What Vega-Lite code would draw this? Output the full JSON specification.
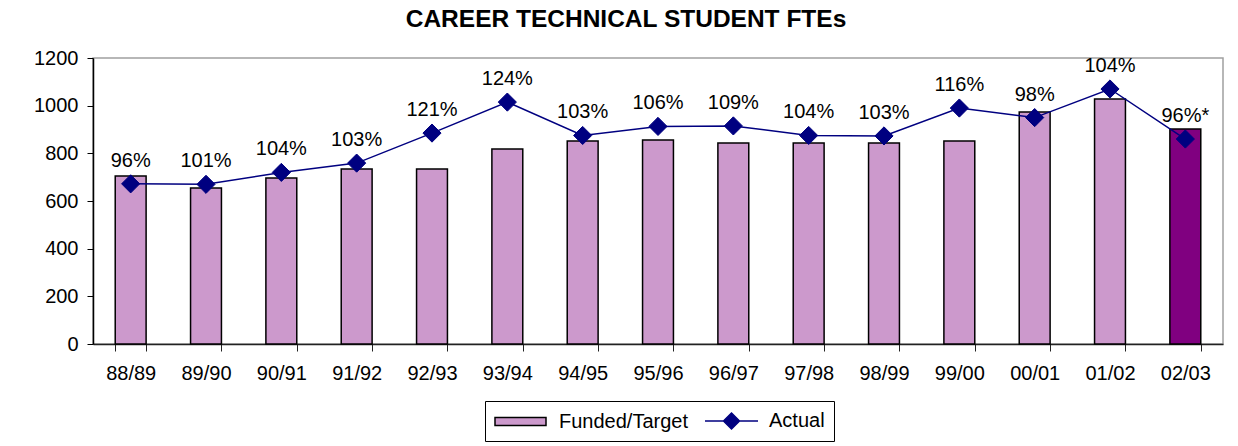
{
  "$schema": "https://vega.github.io/schema/vega-lite/v6.json",
  "width": 1130,
  "height": 286,
  "autosize": {"type": "none"},
  "padding": {"left": 93, "top": 58, "right": 15, "bottom": 102},
  "background": "white",
  "title": {
    "text": "CAREER TECHNICAL STUDENT FTEs",
    "font": "Liberation Sans",
    "fontSize": 24.5,
    "fontWeight": "bold",
    "color": "black",
    "anchor": "middle",
    "dx": -32,
    "offset": 16
  },
  "config": {
    "font": "Liberation Sans",
    "view": {"stroke": "#a0a0a0", "strokeWidth": 1.5},
    "legend": {
      "strokeColor": "black",
      "fillColor": "white",
      "padding": 9,
      "labelFontSize": 20,
      "labelColor": "black",
      "labelOffset": 43,
      "columnPadding": 14,
      "symbolSize": 400,
      "symbolStrokeWidth": 1.5,
      "symbolOpacity": 1
    }
  },
  "data": {
    "values": [
      {"year": "88/89", "funded": 705, "actual": 672, "pct": "96%"},
      {"year": "89/90", "funded": 655, "actual": 670, "pct": "101%"},
      {"year": "90/91", "funded": 696, "actual": 720, "pct": "104%"},
      {"year": "91/92", "funded": 734, "actual": 759, "pct": "103%"},
      {"year": "92/93", "funded": 734, "actual": 885, "pct": "121%"},
      {"year": "93/94", "funded": 818, "actual": 1015, "pct": "124%"},
      {"year": "94/95", "funded": 852, "actual": 875, "pct": "103%"},
      {"year": "95/96", "funded": 856, "actual": 913, "pct": "106%"},
      {"year": "96/97", "funded": 843, "actual": 915, "pct": "109%"},
      {"year": "97/98", "funded": 843, "actual": 875, "pct": "104%"},
      {"year": "98/99", "funded": 843, "actual": 873, "pct": "103%"},
      {"year": "99/00", "funded": 852, "actual": 990, "pct": "116%"},
      {"year": "00/01", "funded": 973, "actual": 950, "pct": "98%"},
      {"year": "01/02", "funded": 1028, "actual": 1070, "pct": "104%"},
      {"year": "02/03", "funded": 902, "actual": 860, "pct": "96%*"}
    ]
  },
  "encoding": {
    "x": {
      "field": "year",
      "type": "ordinal",
      "sort": null,
      "scale": {"paddingInner": 0.59, "paddingOuter": 0.295},
      "axis": {
        "title": null,
        "labelAngle": 0,
        "labelFontSize": 20,
        "labelColor": "black",
        "labelPadding": 12,
        "tickBand": "extent",
        "tickSize": 7,
        "tickColor": "#222",
        "domainColor": "#222",
        "domainWidth": 1.5
      }
    }
  },
  "layer": [
    {
      "mark": {"type": "bar", "stroke": "black", "strokeWidth": 1.5},
      "encoding": {
        "y": {
          "field": "funded",
          "type": "quantitative",
          "scale": {"domain": [0, 1200], "nice": false},
          "axis": {
            "title": null,
            "values": [0, 200, 400, 600, 800, 1000, 1200],
            "format": "d",
            "grid": false,
            "labelFontSize": 20,
            "labelColor": "black",
            "labelPadding": 9,
            "tickSize": 6,
            "tickColor": "black",
            "domainColor": "black",
            "domainWidth": 1.5
          }
        },
        "fill": {
          "condition": {"test": "datum.year === '02/03'", "value": "#800080"},
          "value": "#cc99cc"
        }
      }
    },
    {
      "mark": {"type": "line", "strokeWidth": 1.5, "stroke": "#000080"},
      "encoding": {
        "y": {"field": "actual", "type": "quantitative"}
      }
    },
    {
      "mark": {"type": "point", "filled": true, "size": 330, "opacity": 1, "strokeWidth": 1},
      "encoding": {
        "y": {"field": "actual", "type": "quantitative"},
        "fill": {
          "datum": "Actual",
          "type": "nominal",
          "scale": {"domain": ["Funded/Target", "Actual"], "range": ["#cc99cc", "#000080"]},
          "legend": {"title": null, "orient": "none", "legendX": 392, "legendY": 343, "direction": "horizontal"}
        },
        "stroke": {
          "datum": "Actual",
          "type": "nominal",
          "scale": {"domain": ["Funded/Target", "Actual"], "range": ["black", "#000080"]},
          "legend": {"title": null, "orient": "none", "legendX": 392, "legendY": 343, "direction": "horizontal"}
        },
        "shape": {
          "condition": {"test": "true", "value": "diamond"},
          "datum": "Actual",
          "type": "nominal",
          "scale": {"domain": ["Funded/Target", "Actual"], "range": ["M-1,-0.4H4.1V0.4H-1Z", "M-1,0H4.3M1.65,-0.8L2.45,0L1.65,0.8L0.85,0Z"]},
          "legend": {"title": null, "orient": "none", "legendX": 392, "legendY": 343, "direction": "horizontal"}
        }
      }
    },
    {
      "mark": {"type": "text", "fontSize": 20, "baseline": "alphabetic", "dy": -17, "color": "black"},
      "encoding": {
        "y": {"field": "actual", "type": "quantitative"},
        "text": {"field": "pct"}
      }
    }
  ]
}
